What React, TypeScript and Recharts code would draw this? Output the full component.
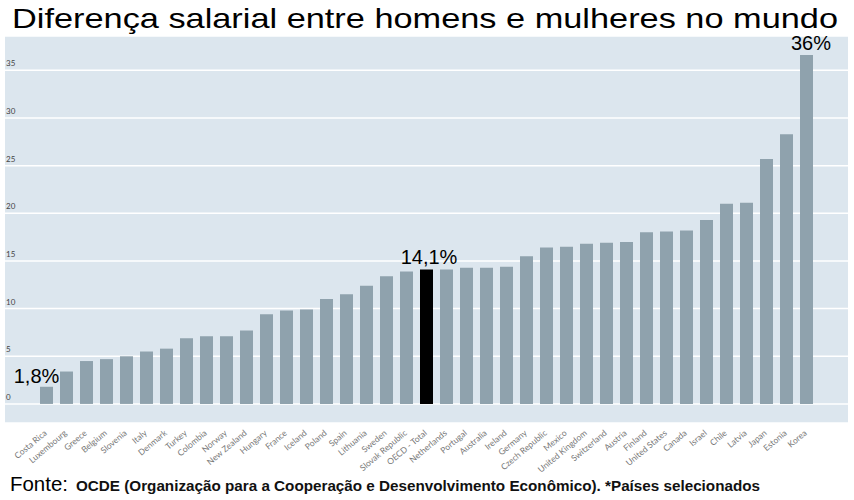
import React from 'react'
import { BarChart, Bar, XAxis, YAxis, CartesianGrid, Cell, LabelList } from 'recharts'

const countries = [
  'Costa Rica', 'Luxembourg', 'Greece', 'Belgium', 'Slovenia', 'Italy', 'Denmark', 'Turkey',
  'Colombia', 'Norway', 'New Zealand', 'Hungary', 'France', 'Iceland', 'Poland', 'Spain',
  'Lithuania', 'Sweden', 'Slovak Republic', 'OECD - Total', 'Netherlands', 'Portugal',
  'Australia', 'Ireland', 'Germany', 'Czech Republic', 'Mexico', 'United Kingdom',
  'Switzerland', 'Austria', 'Finland', 'United States', 'Canada', 'Israel', 'Chile', 'Latvia',
  'Japan', 'Estonia', 'Korea',
]

const gapValues = [
  1.8, 3.4, 4.5, 4.7, 5.0, 5.5, 5.8, 6.9, 7.1, 7.1, 7.7, 9.4, 9.8, 9.9, 11.0, 11.5, 12.4,
  13.4, 13.9, 14.1, 14.1, 14.3, 14.3, 14.4, 15.5, 16.4, 16.5, 16.8, 16.9, 17.0, 18.0, 18.1,
  18.2, 19.3, 21.0, 21.1, 25.7, 28.3, 36.6,
]

const yTicks = [0, 5, 10, 15, 20, 25, 30, 35]

const calloutCountries = ['Costa Rica', 'OECD - Total', 'Korea']
const calloutTexts = ['1,8%', '14,1%', '36%']

const title = 'Diferença salarial entre homens e mulheres no mundo'
const sourceLead = 'Fonte:'
const sourceText = 'OCDE (Organização para a Cooperação e Desenvolvimento Econômico). *Países selecionados'

const data = countries.map((name, i) => ({ name, gap: gapValues[i] }))

const BAR_COLOR = '#8fa2ad'
const BG_COLOR = '#dce6ee'

const YTick = ({ y, payload }: any) => (
  <text x={6} y={y - 4} fontSize={8} fill="#444" fontFamily="Lato, sans-serif">
    {payload.value}
  </text>
)

const XTick = ({ x, payload }: any) => {
  const ty = 434
  return (
    <text
      x={x + 1.5}
      y={ty}
      fontSize={8.5}
      fill="#777"
      textAnchor="end"
      fontFamily="Lato, sans-serif"
      transform={`rotate(-40, ${x + 1.5}, ${ty})`}
    >
      {payload.value}
    </text>
  )
}

const calloutOffsets: Record<string, [number, number]> = {
  'Costa Rica': [-10, -4],
  'OECD - Total': [2.5, -5.5],
  Korea: [4.5, -5],
}

const Callout = (props: any) => {
  const { x, y, width, index } = props
  const name = countries[index]
  const k = calloutCountries.indexOf(name)
  if (k < 0) return null
  const [dx, dy] = calloutOffsets[name]
  return (
    <text
      x={x + width / 2 + dx}
      y={y + dy}
      textAnchor="middle"
      fontSize={20}
      fill="#000"
      fontFamily="'Liberation Sans', Arial, sans-serif"
    >
      {calloutTexts[k]}
    </text>
  )
}

const App = () => {
  return (
    <div style={{ position: 'absolute', left: 0, top: 0, width: 854, height: 500, background: '#fff' }}>
      <BarChart
        width={854}
        height={500}
        data={data}
        margin={{ top: 36, right: 6, bottom: 17, left: 4 }}
        barSize={13}
      >
        <CartesianGrid vertical={false} stroke="#ffffff" strokeWidth={1.5} fill={BG_COLOR} fillOpacity={1} />
        <XAxis
          dataKey="name"
          interval={0}
          height={60}
          padding={{ left: 31, right: 32 }}
          axisLine={false}
          tickLine={false}
          tick={<XTick />}
        />
        <YAxis
          width={1}
          interval={0}
          domain={[-2, 38.6]}
          ticks={yTicks}
          axisLine={false}
          tickLine={false}
          tick={<YTick />}
        />
        <Bar dataKey="gap" isAnimationActive={false}>
          {data.map((d) => (
            <Cell key={d.name} fill={d.name === 'OECD - Total' ? '#000' : BAR_COLOR} />
          ))}
          <LabelList dataKey="gap" content={<Callout />} />
        </Bar>
      </BarChart>
      <svg
        width={854}
        height={500}
        style={{ position: 'absolute', left: 0, top: 0, pointerEvents: 'none' }}
      >
        <text
          x={12}
          y={28}
          fontSize={28}
          textLength={826}
          lengthAdjust="spacingAndGlyphs"
          fontFamily="'Liberation Sans', Arial, sans-serif"
          fill="#000"
        >
          {title}
        </text>
        <text
          x={10}
          y={491}
          fontSize={21}
          textLength={58}
          lengthAdjust="spacingAndGlyphs"
          fontFamily="'Liberation Sans', Arial, sans-serif"
          fill="#000"
        >
          {sourceLead}
        </text>
        <text
          x={76}
          y={491}
          fontSize={15}
          fontWeight="bold"
          textLength={684}
          lengthAdjust="spacingAndGlyphs"
          fontFamily="'Liberation Sans', Arial, sans-serif"
          fill="#111"
        >
          {sourceText}
        </text>
      </svg>
    </div>
  )
}

export default App
